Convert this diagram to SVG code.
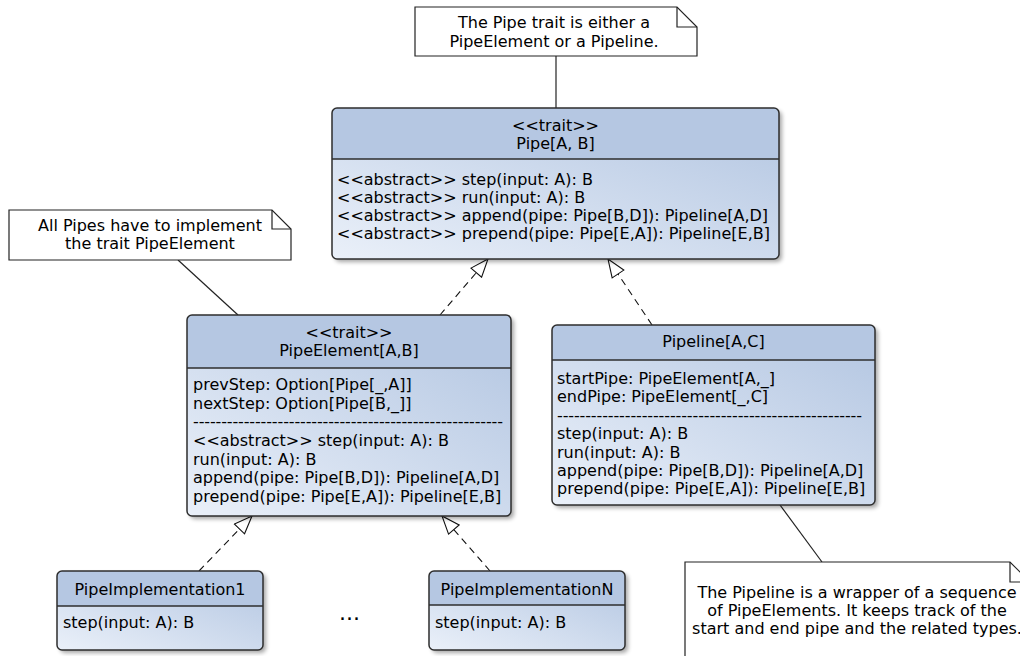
<svg xmlns="http://www.w3.org/2000/svg" width="1020" height="656" viewBox="0 0 1020 656">
<style>
text{font-family:"DejaVu Sans","Liberation Sans",sans-serif;font-size:16px;fill:#000}
.c{text-anchor:middle}
.body{fill:url(#grad);stroke:none}
.head{fill:#b5c7e2;stroke:none}
.frame{fill:none;stroke:#2e2e2e;stroke-width:1.5}
.div{stroke:#2e2e2e;stroke-width:1.5}
.note{fill:#fff;stroke:#222;stroke-width:1.2}
.fold{fill:none;stroke:#222;stroke-width:1.2}
.nl{stroke:#222;stroke-width:1.2;fill:none}
.real{stroke:#111;stroke-width:1.1;stroke-dasharray:7,5;fill:none;marker-end:url(#tri)}
</style>
<defs>
<linearGradient id="grad" x1="0" y1="1" x2="1" y2="0">
<stop offset="0" stop-color="#eaf0f9"/>
<stop offset="1" stop-color="#b2c5e1"/>
</linearGradient>
<filter id="sh" x="-10%" y="-10%" width="130%" height="130%">
<feGaussianBlur in="SourceAlpha" stdDeviation="2"/>
<feOffset dx="3" dy="3" result="b"/>
<feComponentTransfer><feFuncA type="linear" slope="0.35"/></feComponentTransfer>
<feMerge><feMergeNode/><feMergeNode in="SourceGraphic"/></feMerge>
</filter>
<marker id="tri" viewBox="0 0 20 16" refX="19" refY="8" markerWidth="20" markerHeight="16" markerUnits="userSpaceOnUse" orient="auto">
<path d="M1,1 L19,8 L1,15 Z" fill="#fff" stroke="#111" stroke-width="1.1" stroke-dasharray="none"/>
</marker>
</defs>

<g id="connectors">
<line class="nl" x1="556" y1="56" x2="556" y2="108"/>
<line class="nl" x1="178" y1="260" x2="238" y2="315"/>
<line class="nl" x1="780" y1="505" x2="822" y2="562"/>
<line class="real" x1="440" y1="315" x2="488" y2="259"/>
<line class="real" x1="652" y1="325" x2="608" y2="259"/>
<line class="real" x1="199" y1="571" x2="252" y2="516"/>
<line class="real" x1="490" y1="571" x2="442" y2="516"/>
</g>

<g id="note-top">
<path class="note" d="M415,7 L677,7 L697,27 L697,56 L415,56 Z"/>
<path class="fold" d="M677,7 L677,27 L697,27"/>
<text class="c" x="554" y="28">The Pipe trait is either a</text>
<text class="c" x="554" y="47">PipeElement or a Pipeline.</text>
</g>

<g id="note-left">
<path class="note" d="M9,210 L272,210 L291,229 L291,260 L9,260 Z"/>
<path class="fold" d="M272,210 L272,229 L291,229"/>
<text class="c" x="150" y="231">All Pipes have to implement</text>
<text class="c" x="150" y="249">the trait PipeElement</text>
</g>

<g id="note-right">
<path class="note" d="M685,562 L1010,562 L1030,582 L1030,680 L685,680 Z"/>
<path class="fold" d="M1010,562 L1010,582 L1030,582"/>
<text class="c" x="857" y="598">The Pipeline is a wrapper of a sequence</text>
<text class="c" x="857" y="616">of PipeElements. It keeps track of the</text>
<text class="c" x="857" y="634">start and end pipe and the related types.</text>
</g>

<g id="pipe">
<rect class="body" x="332" y="108" width="447" height="151" rx="5" filter="url(#sh)"/>
<path class="head" d="M332,159 V113 Q332,108 337,108 H774 Q779,108 779,113 V159 Z"/>
<rect class="frame" x="332" y="108" width="447" height="151" rx="5"/>
<line class="div" x1="332" y1="159" x2="779" y2="159"/>
<text class="c" x="555.5" y="131">&lt;&lt;trait&gt;&gt;</text>
<text class="c" x="555.5" y="149">Pipe[A, B]</text>
<text x="337" y="185">&lt;&lt;abstract&gt;&gt; step(input: A): B</text>
<text x="337" y="203">&lt;&lt;abstract&gt;&gt; run(input: A): B</text>
<text x="337" y="221">&lt;&lt;abstract&gt;&gt; append(pipe: Pipe[B,D]): Pipeline[A,D]</text>
<text x="337" y="239">&lt;&lt;abstract&gt;&gt; prepend(pipe: Pipe[E,A]): Pipeline[E,B]</text>
</g>

<g id="pipe-element">
<rect class="body" x="187" y="315" width="324" height="201" rx="5" filter="url(#sh)"/>
<path class="head" d="M187,368 V320 Q187,315 192,315 H506 Q511,315 511,320 V368 Z"/>
<rect class="frame" x="187" y="315" width="324" height="201" rx="5"/>
<line class="div" x1="187" y1="368" x2="511" y2="368"/>
<text class="c" x="349" y="338">&lt;&lt;trait&gt;&gt;</text>
<text class="c" x="349" y="356">PipeElement[A,B]</text>
<text x="193" y="390">prevStep: Option[Pipe[_,A]]</text>
<text x="193" y="408.5">nextStep: Option[Pipe[B,_]]</text>
<text x="193" y="427" textLength="310" lengthAdjust="spacing">-------------------------------------------------------</text>
<text x="193" y="446">&lt;&lt;abstract&gt;&gt; step(input: A): B</text>
<text x="193" y="464.5">run(input: A): B</text>
<text x="193" y="483">append(pipe: Pipe[B,D]): Pipeline[A,D]</text>
<text x="193" y="501.5">prepend(pipe: Pipe[E,A]): Pipeline[E,B]</text>
</g>

<g id="pipeline">
<rect class="body" x="552" y="325" width="323" height="180" rx="5" filter="url(#sh)"/>
<path class="head" d="M552,360 V330 Q552,325 557,325 H870 Q875,325 875,330 V360 Z"/>
<rect class="frame" x="552" y="325" width="323" height="180" rx="5"/>
<line class="div" x1="552" y1="360" x2="875" y2="360"/>
<text class="c" x="713.5" y="347">Pipeline[A,C]</text>
<text x="557" y="383.5">startPipe: PipeElement[A,_]</text>
<text x="557" y="402">endPipe: PipeElement[_,C]</text>
<text x="557" y="420.5" textLength="305" lengthAdjust="spacing">------------------------------------------------------</text>
<text x="557" y="439">step(input: A): B</text>
<text x="557" y="457.5">run(input: A): B</text>
<text x="557" y="475.5">append(pipe: Pipe[B,D]): Pipeline[A,D]</text>
<text x="557" y="494">prepend(pipe: Pipe[E,A]): Pipeline[E,B]</text>
</g>

<g id="impl-1">
<rect class="body" x="57" y="571" width="206" height="79" rx="5" filter="url(#sh)"/>
<path class="head" d="M57,606 V576 Q57,571 62,571 H258 Q263,571 263,576 V606 Z"/>
<rect class="frame" x="57" y="571" width="206" height="79" rx="5"/>
<line class="div" x1="57" y1="606" x2="263" y2="606"/>
<text class="c" x="160" y="595">PipeImplementation1</text>
<text x="63" y="628">step(input: A): B</text>
</g>

<text id="ellipsis" x="349.5" y="620" class="c" style="font-size:22px">...</text>

<g id="impl-n">
<rect class="body" x="429" y="571" width="196" height="79" rx="5" filter="url(#sh)"/>
<path class="head" d="M429,605 V576 Q429,571 434,571 H620 Q625,571 625,576 V605 Z"/>
<rect class="frame" x="429" y="571" width="196" height="79" rx="5"/>
<line class="div" x1="429" y1="605" x2="625" y2="605"/>
<text class="c" x="527" y="595">PipeImplementationN</text>
<text x="435" y="628">step(input: A): B</text>
</g>
</svg>
